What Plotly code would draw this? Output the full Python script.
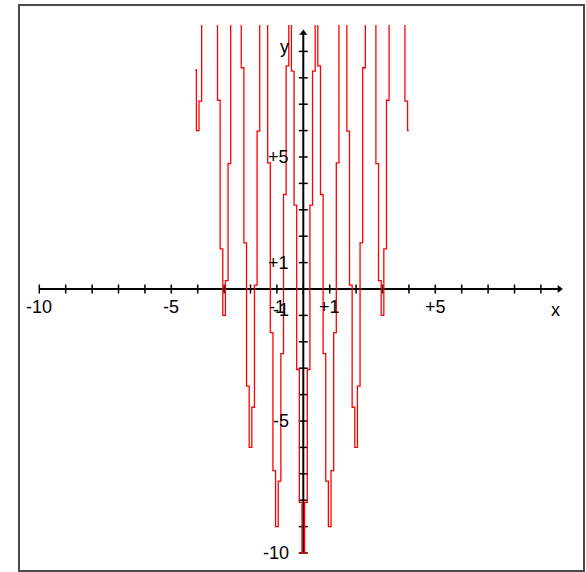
import plotly.graph_objects as go

# Sampled curve: x positions and y values (values above the view are cut off at y = 10)
x_samples = [-4.1, -4.0, -3.9, -3.8, -3.7, -3.6, -3.5, -3.4, -3.3, -3.2, -3.1,
             -3.0, -2.9, -2.8, -2.7, -2.6, -2.5, -2.4, -2.3, -2.2, -2.1,
             -2.0, -1.9, -1.8, -1.7, -1.6, -1.5, -1.4, -1.3, -1.2, -1.1,
             -1.0, -0.9, -0.8, -0.7, -0.6, -0.5, -0.4, -0.3, -0.2, -0.1,
             0.0, 0.1, 0.2, 0.3, 0.4, 0.5, 0.6, 0.7, 0.8, 0.9,
             1.0, 1.1, 1.2, 1.3, 1.4, 1.5, 1.6, 1.7, 1.8, 1.9,
             2.0, 2.1, 2.2, 2.3, 2.4, 2.5, 2.6, 2.7, 2.8, 2.9,
             3.0, 3.1, 3.2, 3.3, 3.4, 3.5, 3.6, 3.7, 3.8, 3.9, 4.0]
y_samples = [8.3, 6.0, 7.12, 11.35, 16.78, 21.05, 22.25, 19.65, 13.98, 7.15, 1.52,
             -1.0, 0.32, 4.75, 10.38, 14.85, 16.25, 13.85, 8.38, 1.75, -3.68,
             -6.0, -4.48, 0.15, 5.98, 10.65, 12.25, 10.05, 4.78, -1.65, -6.88,
             -9.0, -7.28, -2.45, 3.58, 8.45, 10.25, 8.25, 3.18, -3.05, -8.08,
             -10.0, -8.08, -3.05, 3.18, 8.25, 10.25, 8.45, 3.58, -2.45, -7.28,
             -9.0, -6.88, -1.65, 4.78, 10.05, 12.25, 10.65, 5.98, 0.15, -4.48,
             -6.0, -3.68, 1.75, 8.38, 13.85, 16.25, 14.85, 10.38, 4.75, 0.32,
             -1.0, 1.52, 7.15, 13.98, 19.65, 22.25, 21.05, 16.78, 11.35, 7.12, 6.0]

# Axis ticks and labels
x_ticks = list(range(-10, 10))
y_ticks = list(range(-10, 10))
x_tick_labels = {-10: "-10", -5: "-5", -1: "-1", 1: "+1", 5: "+5"}
y_tick_labels = {5: "+5", 1: "+1", -1: "-1", -5: "-5", -10: "-10"}
axis_end = 9.7
view_y = [-10.5, 10.0]

W, H = 586, 572
X0_PX, Y0_PX, UNIT = 303.3, 289.0, 26.4   # origin position and pixels per unit

x_range = [-X0_PX / UNIT, (W - X0_PX) / UNIT]
y_range = [-(H - Y0_PX) / UNIT, Y0_PX / UNIT]


def y_to_paper(v):
    return (v - y_range[0]) / (y_range[1] - y_range[0])


fig = go.Figure()

# the curve, clipped to the viewing window
fig.add_trace(go.Scatter(x=x_samples, y=y_samples, mode="lines",
                         line=dict(color="#ff0000", width=1.3, shape="hvh"),
                         xaxis="x", yaxis="y2", hoverinfo="skip"))

# coordinate axes
fig.add_trace(go.Scatter(x=[-10, axis_end], y=[0, 0], mode="lines",
                         line=dict(color="black", width=2), hoverinfo="skip"))
fig.add_trace(go.Scatter(x=[0, 0], y=[-10, axis_end], mode="lines",
                         line=dict(color="black", width=2), hoverinfo="skip"))
fig.add_trace(go.Scatter(x=[axis_end], y=[0], mode="markers",
                         marker=dict(symbol="triangle-right", size=7, color="black"),
                         hoverinfo="skip"))
fig.add_trace(go.Scatter(x=[0], y=[axis_end], mode="markers",
                         marker=dict(symbol="triangle-up", size=7, color="black"),
                         hoverinfo="skip"))

# tick crosses
tick_half = 4.5 / UNIT
tx, ty = [], []
for t in x_ticks:
    tx += [t, t, None]
    ty += [-tick_half, tick_half, None]
for t in y_ticks:
    tx += [-tick_half, tick_half, None]
    ty += [t, t, None]
fig.add_trace(go.Scatter(x=tx, y=ty, mode="lines",
                         line=dict(color="black", width=1.5), hoverinfo="skip"))

font = dict(family="Liberation Sans", size=18, color="black")
annotations = []
for v, s in x_tick_labels.items():
    annotations.append(dict(x=v, y=-0.7, text=s, showarrow=False, font=font,
                            xanchor="center", yanchor="middle"))
for v, s in y_tick_labels.items():
    yy = v if v != -1 else -0.8
    annotations.append(dict(x=-0.45, y=yy, text=s, showarrow=False, font=font,
                            xanchor="right", yanchor="middle"))
annotations.append(dict(x=9.57, y=-0.8, text="x", showarrow=False, font=font,
                        xanchor="center", yanchor="middle"))
annotations.append(dict(x=-0.7, y=9.15, text="y", showarrow=False, font=font,
                        xanchor="center", yanchor="middle"))

fig.update_layout(
    width=W, height=H,
    margin=dict(l=0, r=0, t=0, b=0),
    paper_bgcolor="white", plot_bgcolor="rgba(0,0,0,0)",
    showlegend=False,
    xaxis=dict(range=x_range, visible=False, fixedrange=True),
    yaxis=dict(range=y_range, visible=False, fixedrange=True, domain=[0, 1]),
    yaxis2=dict(range=view_y, visible=False, fixedrange=True, anchor="x",
                domain=[y_to_paper(view_y[0]), y_to_paper(view_y[1])]),
    annotations=annotations,
    shapes=[dict(type="rect", xref="paper", yref="paper",
                 x0=19 / W, x1=584 / W, y0=1 - 571 / H, y1=1 - 5 / H,
                 line=dict(color="#4a4a4a", width=2))],
)

fig.write_html("out.html")
